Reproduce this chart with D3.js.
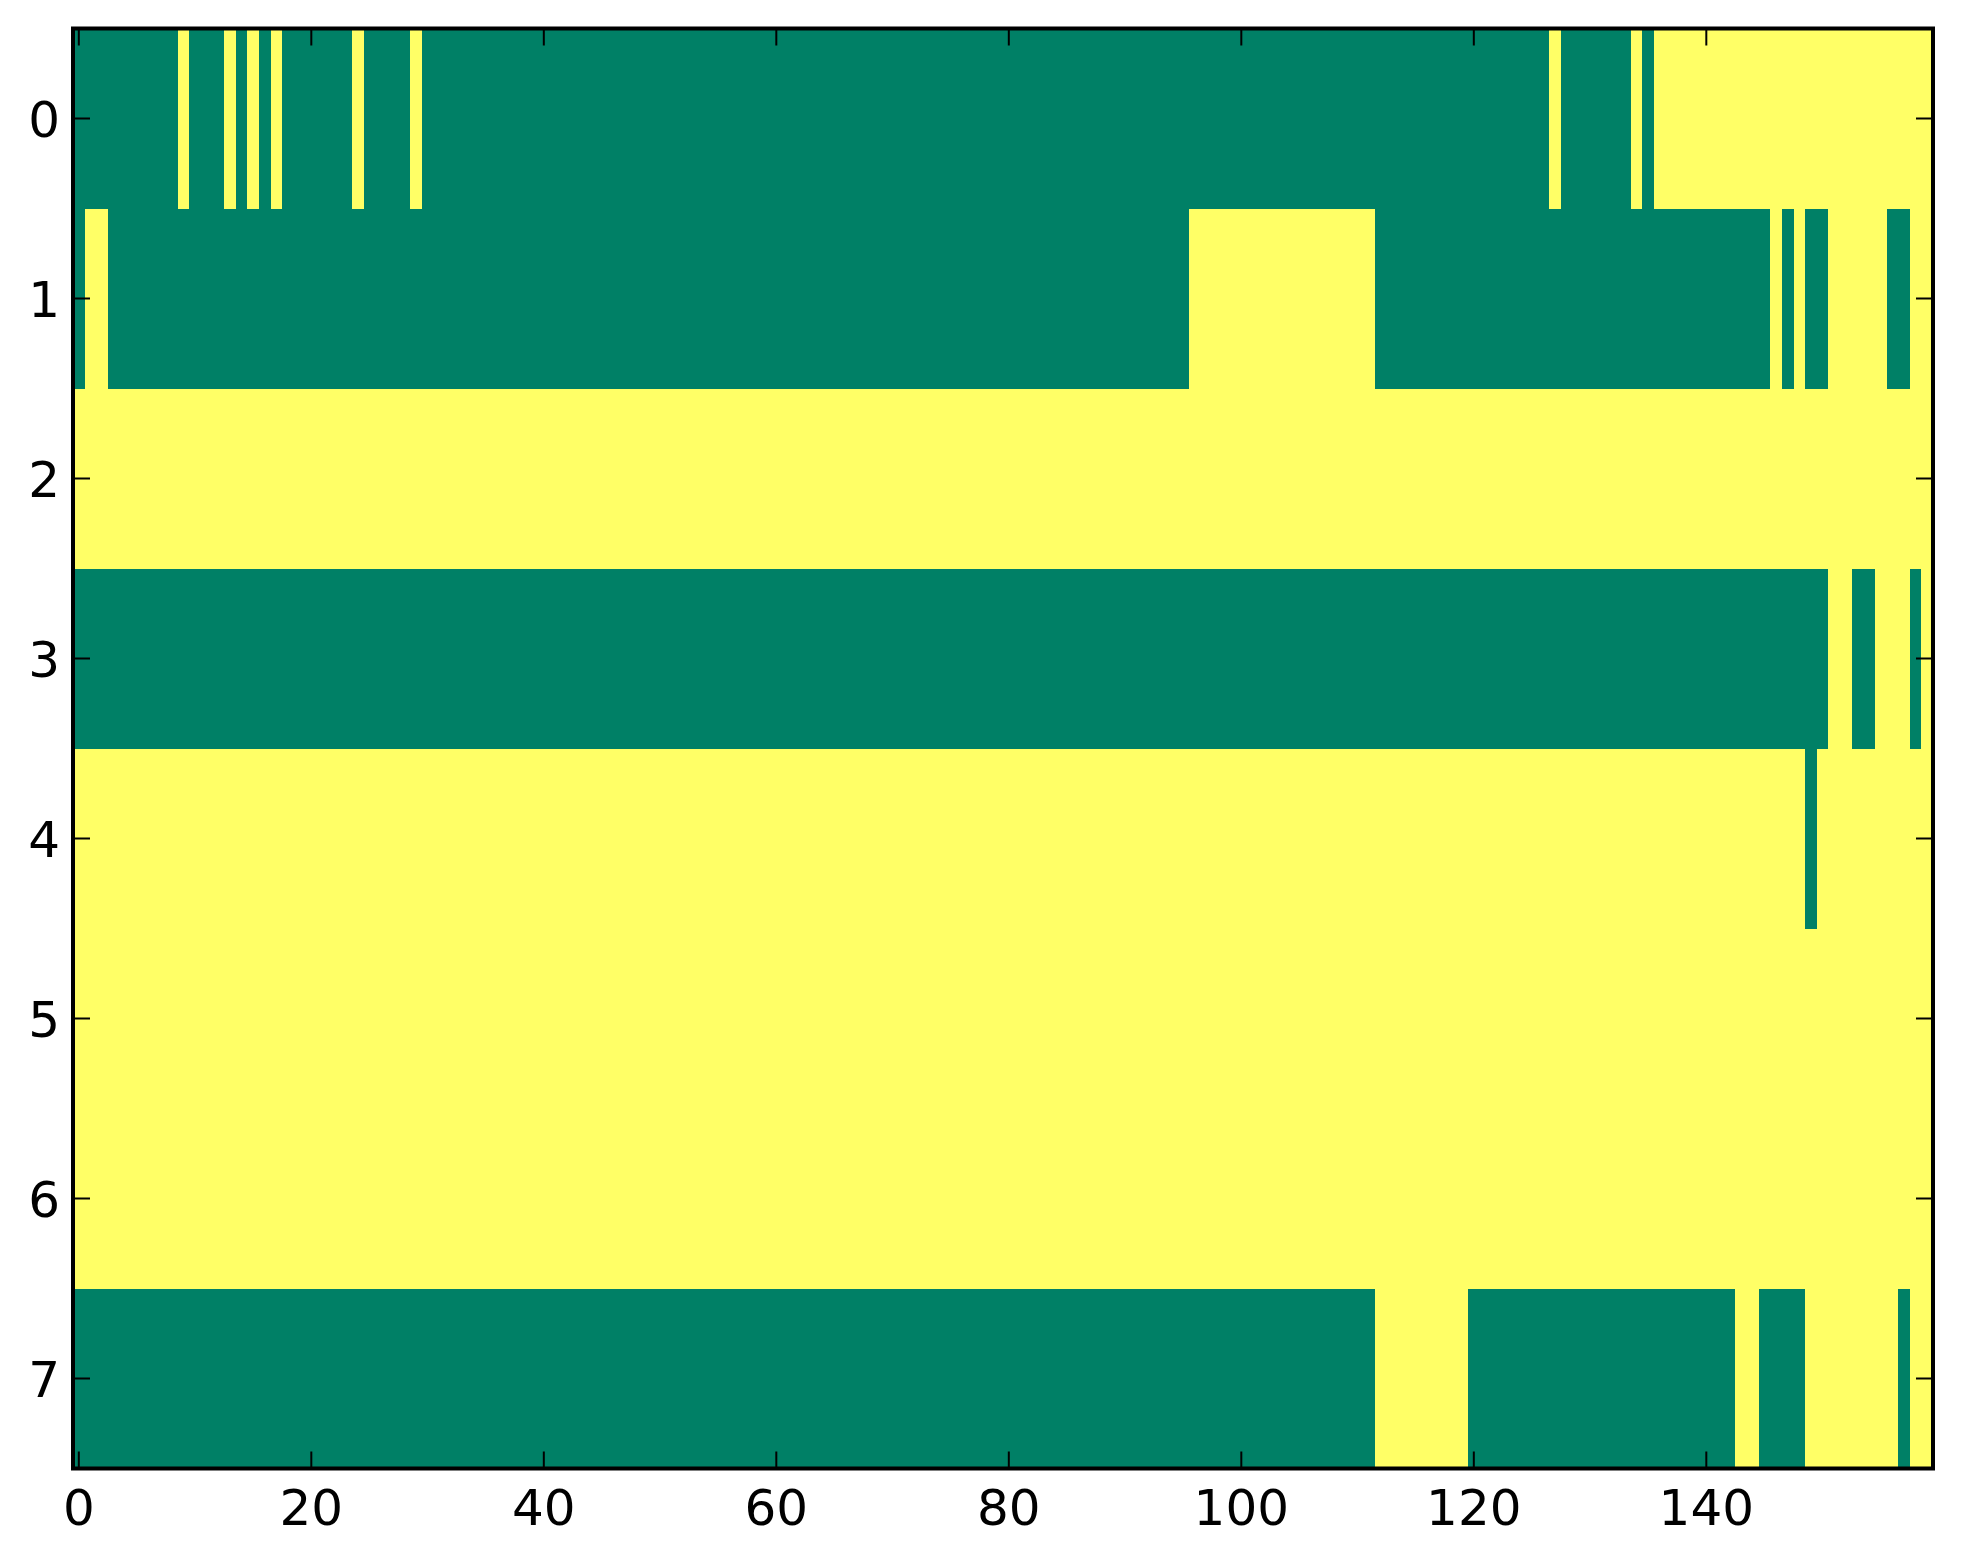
<!DOCTYPE html>
<html>
<head>
<meta charset="utf-8">
<script src="https://cdn.jsdelivr.net/npm/d3@7"></script>
<style>
  html, body { margin: 0; padding: 0; background: #ffffff; }
  svg { display: block; }
</style>
</head>
<body>
<script>
// ---- data: 8 rows x 160 columns (0 = low / green, 1 = high / yellow) ----
const rowLabels = [0, 1, 2, 3, 4, 5, 6, 7];
const xTickValues = [0, 20, 40, 60, 80, 100, 120, 140];
const yTickValues = [0, 1, 2, 3, 4, 5, 6, 7];

const row0 = [
  0,0,0,0,0,0,0,0,0,1, 0,0,0,1,0,1,0,1,0,0,
  0,0,0,0,1,0,0,0,0,1, 0,0,0,0,0,0,0,0,0,0,
  0,0,0,0,0,0,0,0,0,0, 0,0,0,0,0,0,0,0,0,0,
  0,0,0,0,0,0,0,0,0,0, 0,0,0,0,0,0,0,0,0,0,
  0,0,0,0,0,0,0,0,0,0, 0,0,0,0,0,0,0,0,0,0,
  0,0,0,0,0,0,0,0,0,0, 0,0,0,0,0,0,0,0,0,0,
  0,0,0,0,0,0,0,1,0,0, 0,0,0,0,1,0,1,1,1,1,
  1,1,1,1,1,1,1,1,1,1, 1,1,1,1,1,1,1,1,1,1
];
const row1 = [
  0,1,1,0,0,0,0,0,0,0, 0,0,0,0,0,0,0,0,0,0,
  0,0,0,0,0,0,0,0,0,0, 0,0,0,0,0,0,0,0,0,0,
  0,0,0,0,0,0,0,0,0,0, 0,0,0,0,0,0,0,0,0,0,
  0,0,0,0,0,0,0,0,0,0, 0,0,0,0,0,0,0,0,0,0,
  0,0,0,0,0,0,0,0,0,0, 0,0,0,0,0,0,1,1,1,1,
  1,1,1,1,1,1,1,1,1,1, 1,1,0,0,0,0,0,0,0,0,
  0,0,0,0,0,0,0,0,0,0, 0,0,0,0,0,0,0,0,0,0,
  0,0,0,0,0,0,1,0,1,0, 0,1,1,1,1,1,0,0,1,1
];
const row2 = [
  1,1,1,1,1,1,1,1,1,1, 1,1,1,1,1,1,1,1,1,1,
  1,1,1,1,1,1,1,1,1,1, 1,1,1,1,1,1,1,1,1,1,
  1,1,1,1,1,1,1,1,1,1, 1,1,1,1,1,1,1,1,1,1,
  1,1,1,1,1,1,1,1,1,1, 1,1,1,1,1,1,1,1,1,1,
  1,1,1,1,1,1,1,1,1,1, 1,1,1,1,1,1,1,1,1,1,
  1,1,1,1,1,1,1,1,1,1, 1,1,1,1,1,1,1,1,1,1,
  1,1,1,1,1,1,1,1,1,1, 1,1,1,1,1,1,1,1,1,1,
  1,1,1,1,1,1,1,1,1,1, 1,1,1,1,1,1,1,1,1,1
];
const row3 = [
  0,0,0,0,0,0,0,0,0,0, 0,0,0,0,0,0,0,0,0,0,
  0,0,0,0,0,0,0,0,0,0, 0,0,0,0,0,0,0,0,0,0,
  0,0,0,0,0,0,0,0,0,0, 0,0,0,0,0,0,0,0,0,0,
  0,0,0,0,0,0,0,0,0,0, 0,0,0,0,0,0,0,0,0,0,
  0,0,0,0,0,0,0,0,0,0, 0,0,0,0,0,0,0,0,0,0,
  0,0,0,0,0,0,0,0,0,0, 0,0,0,0,0,0,0,0,0,0,
  0,0,0,0,0,0,0,0,0,0, 0,0,0,0,0,0,0,0,0,0,
  0,0,0,0,0,0,0,0,0,0, 0,1,1,0,0,1,1,1,0,1
];
const row4 = [
  1,1,1,1,1,1,1,1,1,1, 1,1,1,1,1,1,1,1,1,1,
  1,1,1,1,1,1,1,1,1,1, 1,1,1,1,1,1,1,1,1,1,
  1,1,1,1,1,1,1,1,1,1, 1,1,1,1,1,1,1,1,1,1,
  1,1,1,1,1,1,1,1,1,1, 1,1,1,1,1,1,1,1,1,1,
  1,1,1,1,1,1,1,1,1,1, 1,1,1,1,1,1,1,1,1,1,
  1,1,1,1,1,1,1,1,1,1, 1,1,1,1,1,1,1,1,1,1,
  1,1,1,1,1,1,1,1,1,1, 1,1,1,1,1,1,1,1,1,1,
  1,1,1,1,1,1,1,1,1,0, 1,1,1,1,1,1,1,1,1,1
];
const row5 = [
  1,1,1,1,1,1,1,1,1,1, 1,1,1,1,1,1,1,1,1,1,
  1,1,1,1,1,1,1,1,1,1, 1,1,1,1,1,1,1,1,1,1,
  1,1,1,1,1,1,1,1,1,1, 1,1,1,1,1,1,1,1,1,1,
  1,1,1,1,1,1,1,1,1,1, 1,1,1,1,1,1,1,1,1,1,
  1,1,1,1,1,1,1,1,1,1, 1,1,1,1,1,1,1,1,1,1,
  1,1,1,1,1,1,1,1,1,1, 1,1,1,1,1,1,1,1,1,1,
  1,1,1,1,1,1,1,1,1,1, 1,1,1,1,1,1,1,1,1,1,
  1,1,1,1,1,1,1,1,1,1, 1,1,1,1,1,1,1,1,1,1
];
const row6 = [
  1,1,1,1,1,1,1,1,1,1, 1,1,1,1,1,1,1,1,1,1,
  1,1,1,1,1,1,1,1,1,1, 1,1,1,1,1,1,1,1,1,1,
  1,1,1,1,1,1,1,1,1,1, 1,1,1,1,1,1,1,1,1,1,
  1,1,1,1,1,1,1,1,1,1, 1,1,1,1,1,1,1,1,1,1,
  1,1,1,1,1,1,1,1,1,1, 1,1,1,1,1,1,1,1,1,1,
  1,1,1,1,1,1,1,1,1,1, 1,1,1,1,1,1,1,1,1,1,
  1,1,1,1,1,1,1,1,1,1, 1,1,1,1,1,1,1,1,1,1,
  1,1,1,1,1,1,1,1,1,1, 1,1,1,1,1,1,1,1,1,1
];
const row7 = [
  0,0,0,0,0,0,0,0,0,0, 0,0,0,0,0,0,0,0,0,0,
  0,0,0,0,0,0,0,0,0,0, 0,0,0,0,0,0,0,0,0,0,
  0,0,0,0,0,0,0,0,0,0, 0,0,0,0,0,0,0,0,0,0,
  0,0,0,0,0,0,0,0,0,0, 0,0,0,0,0,0,0,0,0,0,
  0,0,0,0,0,0,0,0,0,0, 0,0,0,0,0,0,0,0,0,0,
  0,0,0,0,0,0,0,0,0,0, 0,0,1,1,1,1,1,1,1,1,
  0,0,0,0,0,0,0,0,0,0, 0,0,0,0,0,0,0,0,0,0,
  0,0,0,1,1,0,0,0,0,1, 1,1,1,1,1,1,1,0,1,1
];
const rows = [row0, row1, row2, row3, row4, row5, row6, row7];

(function () {
  // ---- layout ----
  const W = 1963, H = 1564;
  const pLeft = 73, pRight = 1933, pTop = 28.5, pBottom = 1468.5;
  const nCols = row0.length;

  const x = d3.scaleLinear().domain([-0.5, nCols - 0.5]).range([pLeft, pRight]);
  const y = d3.scaleLinear().domain([-0.5, rowLabels.length - 0.5]).range([pTop, pBottom]);
  // matplotlib "summer" colormap endpoints
  const color = d3.scaleLinear().domain([0, 1]).range(["#008066", "#ffff66"]);

  const svg = d3.select("body").append("svg")
    .attr("width", W).attr("height", H)
    .attr("viewBox", `0 0 ${W} ${H}`);

  svg.append("rect").attr("width", W).attr("height", H).attr("fill", "#ffffff");

  const cells = [];
  rows.forEach((r, ri) => r.forEach((v, ci) => cells.push({ r: rowLabels[ri], c: ci, v })));

  svg.append("g")
    .attr("shape-rendering", "crispEdges")
    .selectAll("rect")
    .data(cells)
    .join("rect")
    .attr("x", d => x(d.c - 0.5))
    .attr("y", d => y(d.r - 0.5))
    .attr("width", d => x(d.c + 0.5) - x(d.c - 0.5) + 0.5)
    .attr("height", d => y(d.r + 0.5) - y(d.r - 0.5) + 0.5)
    .attr("fill", d => color(d.v));

  // ---- ticks (inward, on all four sides) ----
  const tickLen = 17, tickW = 2;
  const tg = svg.append("g").attr("stroke", "#000").attr("stroke-width", tickW);

  tg.selectAll("line.xb").data(xTickValues).join("line").attr("class", "xb")
    .attr("x1", d => x(d)).attr("x2", d => x(d))
    .attr("y1", pBottom).attr("y2", pBottom - tickLen);
  tg.selectAll("line.xt").data(xTickValues).join("line").attr("class", "xt")
    .attr("x1", d => x(d)).attr("x2", d => x(d))
    .attr("y1", pTop).attr("y2", pTop + tickLen);
  tg.selectAll("line.yl").data(yTickValues).join("line").attr("class", "yl")
    .attr("x1", pLeft).attr("x2", pLeft + tickLen)
    .attr("y1", d => y(d)).attr("y2", d => y(d));
  tg.selectAll("line.yr").data(yTickValues).join("line").attr("class", "yr")
    .attr("x1", pRight).attr("x2", pRight - tickLen)
    .attr("y1", d => y(d)).attr("y2", d => y(d));

  // ---- frame ----
  svg.append("rect")
    .attr("x", pLeft).attr("y", pTop)
    .attr("width", pRight - pLeft).attr("height", pBottom - pTop)
    .attr("fill", "none").attr("stroke", "#000").attr("stroke-width", 4);

  // ---- tick labels ----
  const fontSize = 50;
  svg.append("g")
    .attr("font-family", "'DejaVu Sans', sans-serif")
    .attr("font-size", fontSize)
    .attr("fill", "#000")
    .attr("text-anchor", "middle")
    .selectAll("text").data(xTickValues).join("text")
    .attr("x", d => x(d))
    .attr("y", 1525)
    .text(d => d);

  svg.append("g")
    .attr("font-family", "'DejaVu Sans', sans-serif")
    .attr("font-size", fontSize)
    .attr("fill", "#000")
    .attr("text-anchor", "end")
    .selectAll("text").data(yTickValues).join("text")
    .attr("x", 60)
    .attr("y", d => y(d))
    .attr("dy", "0.3645em")
    .text(d => d);
})();
</script>
</body>
</html>
